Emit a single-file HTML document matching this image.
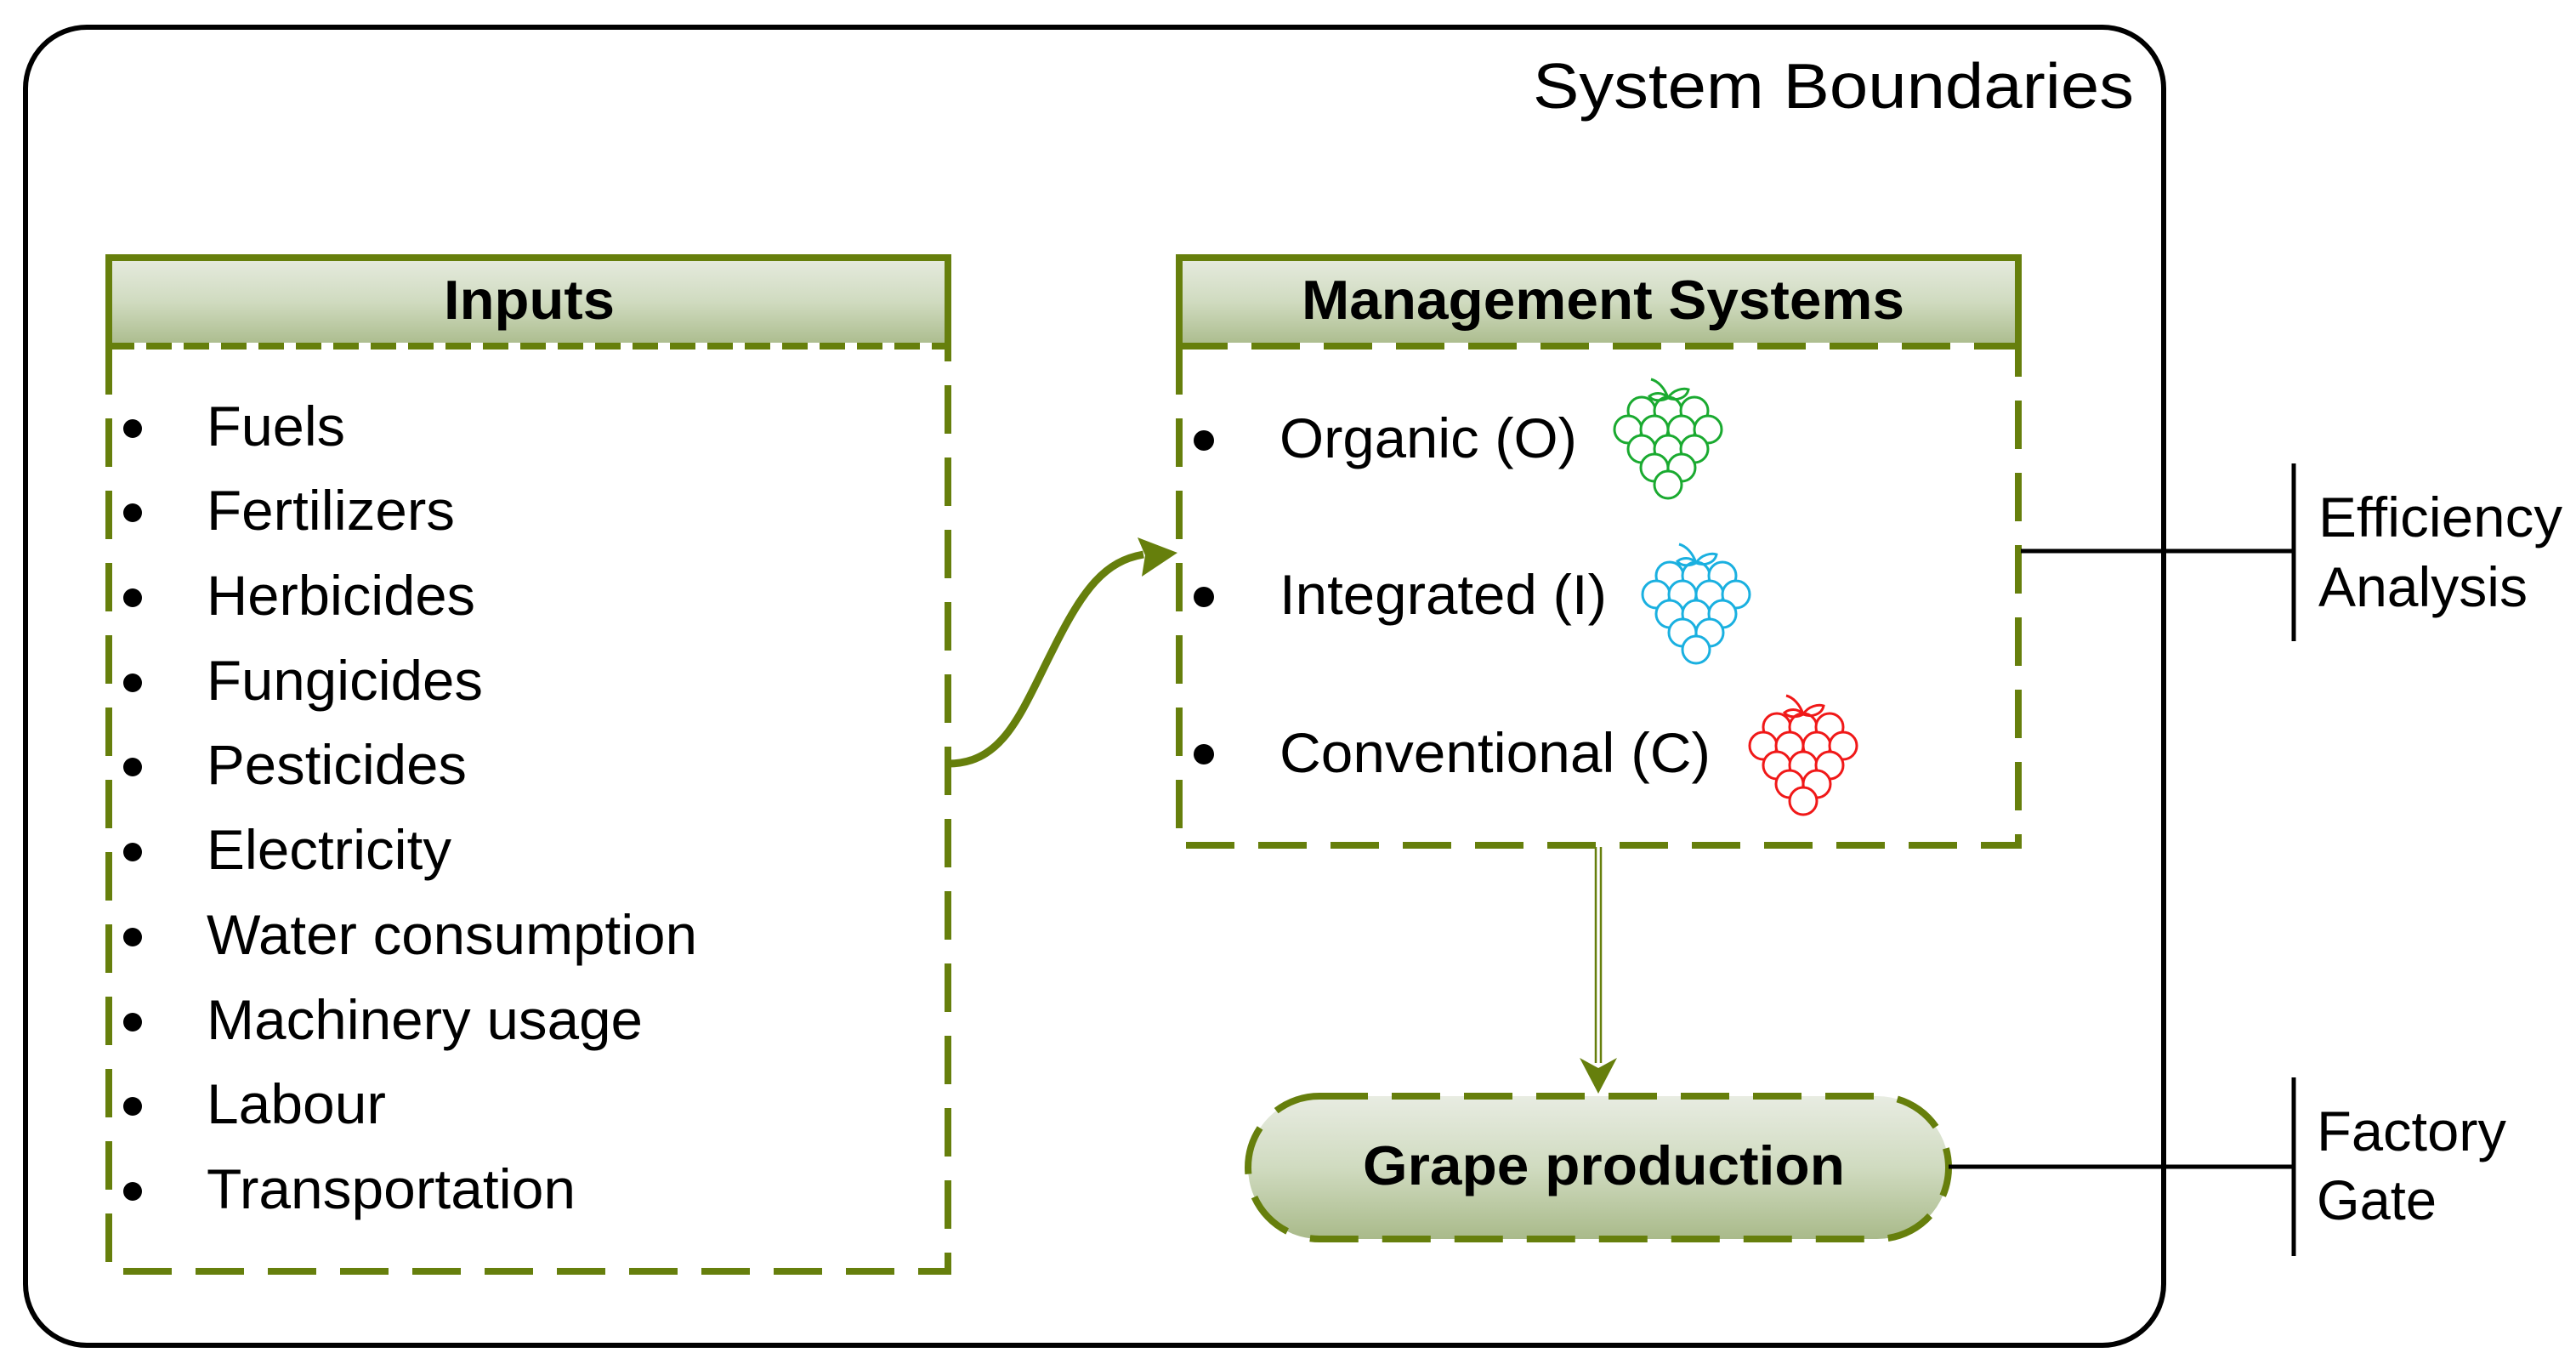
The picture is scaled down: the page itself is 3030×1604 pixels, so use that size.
<!DOCTYPE html>
<html><head><meta charset="utf-8"><style>
html,body{margin:0;padding:0;background:#fff}
svg{display:block}
text{font-family:"Liberation Sans",Arial,sans-serif}
</style></head><body>
<svg width="3030" height="1604" viewBox="0 0 3030 1604" xmlns="http://www.w3.org/2000/svg">
<defs>
<linearGradient id="hg" x1="0" y1="0" x2="0" y2="1">
<stop offset="0" stop-color="#e6ebdf"/><stop offset="0.5" stop-color="#d0dbc0"/><stop offset="1" stop-color="#aabb8c"/>
</linearGradient>
<linearGradient id="pg" x1="0" y1="0" x2="0" y2="1">
<stop offset="0" stop-color="#e8ece2"/><stop offset="0.5" stop-color="#d0dbc0"/><stop offset="1" stop-color="#a9ba8a"/>
</linearGradient>
<g id="grape" fill="#fff" stroke-width="3">
<circle cx="31" cy="41" r="16"/><circle cx="62" cy="41" r="16"/><circle cx="93" cy="41" r="16"/>
<circle cx="15" cy="63" r="16"/><circle cx="46" cy="63" r="16"/><circle cx="78" cy="63" r="16"/><circle cx="109" cy="63" r="16"/>
<circle cx="31" cy="86" r="16"/><circle cx="62" cy="86" r="16"/><circle cx="93" cy="86" r="16"/>
<circle cx="46" cy="108" r="16"/><circle cx="78" cy="108" r="16"/>
<circle cx="62" cy="128" r="16"/>
<path d="M62 26 C55 18 45 20 40 24 C44 30 55 30 62 26 Z M62 26 C68 16 80 14 86 16 C84 26 72 30 62 26 Z M62 26 C58 14 50 6 42 4" fill="none"/>
</g>
</defs>
<rect x="30" y="32" width="2515" height="1550" rx="72" ry="72" fill="none" stroke="#000" stroke-width="6"/>
<text x="1803" y="127" font-size="75" textLength="707" lengthAdjust="spacingAndGlyphs">System Boundaries</text>

<rect x="128" y="303" width="987" height="104" fill="url(#hg)" stroke="#667f0c" stroke-width="8"/>
<line x1="128" y1="407" x2="1115" y2="407" stroke="#fff" stroke-width="8"/>
<line x1="128" y1="407" x2="1115" y2="407" stroke="#667f0c" stroke-width="8" stroke-dasharray="30 14"/>
<path d="M128 407 V1495 H1115 V407" fill="none" stroke="#667f0c" stroke-width="8" stroke-dasharray="57 28"/>
<text x="522" y="375" font-size="65" font-weight="bold" textLength="201" lengthAdjust="spacingAndGlyphs">Inputs</text>
<g font-size="66">
<text x="243" y="524" textLength="163" lengthAdjust="spacingAndGlyphs">Fuels</text>
<text x="243" y="623" textLength="292" lengthAdjust="spacingAndGlyphs">Fertilizers</text>
<text x="243" y="723" textLength="316" lengthAdjust="spacingAndGlyphs">Herbicides</text>
<text x="243" y="823" textLength="325" lengthAdjust="spacingAndGlyphs">Fungicides</text>
<text x="243" y="922" textLength="306" lengthAdjust="spacingAndGlyphs">Pesticides</text>
<text x="243" y="1022" textLength="288" lengthAdjust="spacingAndGlyphs">Electricity</text>
<text x="243" y="1122" textLength="577" lengthAdjust="spacingAndGlyphs">Water consumption</text>
<text x="243" y="1222" textLength="513" lengthAdjust="spacingAndGlyphs">Machinery usage</text>
<text x="243" y="1321" textLength="211" lengthAdjust="spacingAndGlyphs">Labour</text>
<text x="243" y="1421" textLength="434" lengthAdjust="spacingAndGlyphs">Transportation</text>
</g>
<g fill="#000">
<circle cx="156" cy="504" r="11"/><circle cx="156" cy="603" r="11"/><circle cx="156" cy="703" r="11"/>
<circle cx="156" cy="803" r="11"/><circle cx="156" cy="902" r="11"/><circle cx="156" cy="1002" r="11"/>
<circle cx="156" cy="1102" r="11"/><circle cx="156" cy="1202" r="11"/><circle cx="156" cy="1301" r="11"/>
<circle cx="156" cy="1401" r="11"/>
</g>

<rect x="1387" y="303" width="987" height="104" fill="url(#hg)" stroke="#667f0c" stroke-width="8"/>
<line x1="1387" y1="407" x2="2374" y2="407" stroke="#fff" stroke-width="8"/>
<line x1="1387" y1="407" x2="2374" y2="407" stroke="#667f0c" stroke-width="8" stroke-dasharray="57 28"/>
<path d="M1387 407 V994 H2374 V407" fill="none" stroke="#667f0c" stroke-width="8" stroke-dasharray="57 28"/>
<text x="1531" y="375" font-size="65" font-weight="bold" textLength="709" lengthAdjust="spacingAndGlyphs">Management Systems</text>
<g font-size="66">
<text x="1505" y="538" textLength="350" lengthAdjust="spacingAndGlyphs">Organic (O)</text>
<text x="1505" y="722" textLength="385" lengthAdjust="spacingAndGlyphs">Integrated (I)</text>
<text x="1505" y="908" textLength="507" lengthAdjust="spacingAndGlyphs">Conventional (C)</text>
</g>
<g fill="#000"><circle cx="1416" cy="518" r="12"/><circle cx="1416" cy="702" r="12"/><circle cx="1416" cy="887" r="12"/></g>
<use href="#grape" x="1900" y="442" stroke="#1aaa30"/>
<use href="#grape" x="1933" y="636" stroke="#1ab0e0"/>
<use href="#grape" x="2059" y="814" stroke="#f01818"/>

<path d="M1115 898 C1180 898 1200 840 1237 767 C1275 690 1300 660 1345 652" fill="none" stroke="#667f0c" stroke-width="9"/>
<polygon points="1385,650 1338,632 1347,653 1343,678" fill="#667f0c"/>

<line x1="1877" y1="996" x2="1877" y2="1250" stroke="#667f0c" stroke-width="2.5"/>
<line x1="1883" y1="996" x2="1883" y2="1250" stroke="#667f0c" stroke-width="2.5"/>
<polygon points="1858,1244 1880,1286 1902,1244 1880,1256" fill="#667f0c"/>

<rect x="1468" y="1289" width="824" height="168" rx="84" ry="84" fill="url(#pg)" stroke="#667f0c" stroke-width="8" stroke-dasharray="57 28"/>
<text x="1603" y="1393" font-size="65" font-weight="bold" textLength="567" lengthAdjust="spacingAndGlyphs">Grape production</text>

<line x1="2377" y1="648" x2="2698" y2="648" stroke="#000" stroke-width="5"/>
<line x1="2698" y1="545" x2="2698" y2="754" stroke="#000" stroke-width="5"/>
<text x="2727" y="631" font-size="66" textLength="287" lengthAdjust="spacingAndGlyphs">Efficiency</text>
<text x="2727" y="713" font-size="66" textLength="246" lengthAdjust="spacingAndGlyphs">Analysis</text>
<line x1="2292" y1="1372" x2="2698" y2="1372" stroke="#000" stroke-width="5"/>
<line x1="2698" y1="1267" x2="2698" y2="1477" stroke="#000" stroke-width="5"/>
<text x="2725" y="1353" font-size="66" textLength="223" lengthAdjust="spacingAndGlyphs">Factory</text>
<text x="2725" y="1434" font-size="66" textLength="141" lengthAdjust="spacingAndGlyphs">Gate</text>
</svg>
</body></html>
